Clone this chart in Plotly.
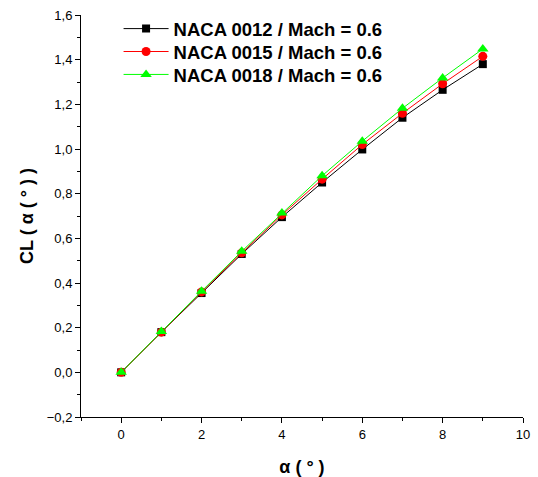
import plotly.graph_objects as go

alpha = [0, 1, 2, 3, 4, 5, 6, 7, 8, 9]
cl_0012 = [0.0, 0.18, 0.355, 0.53, 0.695, 0.85, 0.998, 1.14, 1.265, 1.38]
cl_0015 = [0.0, 0.18, 0.36, 0.535, 0.705, 0.865, 1.02, 1.16, 1.292, 1.415]
cl_0018 = [0.0, 0.183, 0.363, 0.542, 0.713, 0.88, 1.035, 1.182, 1.318, 1.448]
names = ["NACA 0012 / Mach = 0.6", "NACA 0015 / Mach = 0.6", "NACA 0018 / Mach = 0.6"]

FONT = "Liberation Sans, Arial, sans-serif"

fig = go.Figure()
fig.add_trace(go.Scatter(x=alpha, y=cl_0012, name=names[0], mode="lines+markers",
                         legend="legend",
                         line=dict(color="black", width=1),
                         marker=dict(symbol="square", size=8, color="black")))
fig.add_trace(go.Scatter(x=alpha, y=cl_0015, name=names[1], mode="lines+markers",
                         legend="legend2",
                         line=dict(color="red", width=1),
                         marker=dict(symbol="circle", size=9, color="red")))
fig.add_trace(go.Scatter(x=alpha, y=cl_0018, name=names[2], mode="lines+markers",
                         legend="legend3",
                         line=dict(color="#00ff00", width=1),
                         marker=dict(symbol="triangle-up", size=10, color="#00ff00")))

def leg(yv):
    return dict(x=0.085, y=yv, xanchor="left", yanchor="middle",
                font=dict(family=FONT, size=18.5, color="black", weight="bold"),
                bgcolor="rgba(0,0,0,0)", itemwidth=45)

fig.update_layout(
    width=538, height=477,
    margin=dict(l=81, r=15, t=15, b=60, autoexpand=False),
    plot_bgcolor="white", paper_bgcolor="white",
    separators=",.",
    font=dict(family=FONT, color="black", size=13),
    showlegend=True,
    legend=leg(0.965), legend2=leg(0.908), legend3=leg(0.851),
)
fig.update_xaxes(range=[-1, 10], tickvals=[0, 2, 4, 6, 8, 10], automargin=False,
                 showgrid=False, zeroline=False, showline=True, linecolor="black", linewidth=1,
                 ticks="outside", ticklen=5, tickcolor="black",
                 minor=dict(dtick=1, tick0=0, ticks="outside", ticklen=3, tickcolor="black"),
                 tickfont=dict(size=13),
                 title=dict(text="α ( ° )", font=dict(family=FONT, size=18, weight="bold"), standoff=19))
fig.update_yaxes(range=[-0.2, 1.6], dtick=0.2, tick0=0, tickformat=".1f", automargin=False,
                 showgrid=False, zeroline=False, showline=True, linecolor="black", linewidth=1,
                 ticks="outside", ticklen=5, tickcolor="black",
                 minor=dict(dtick=0.1, tick0=0, ticks="outside", ticklen=3, tickcolor="black"),
                 tickfont=dict(size=13),
                 title=dict(text="CL ( α ( ° ) )", font=dict(family=FONT, size=18, weight="bold"), standoff=8))

fig.write_html("out.html")
